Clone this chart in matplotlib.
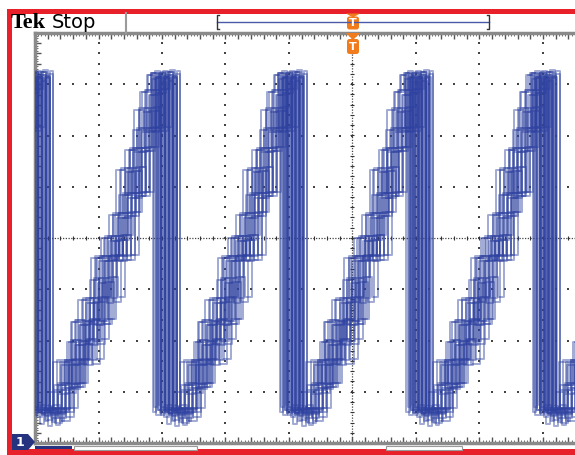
import matplotlib
matplotlib.use("Agg")
import matplotlib.pyplot as plt
import matplotlib.patches as patches
from matplotlib.ticker import MultipleLocator
import numpy as np

# scope settings: 63.5 px per horizontal div, 51.25 px per vertical div
DROPS = [-1.85, 0.15, 2.15, 4.14, 6.13, 8.12]   # falling edge of each sawtooth, div

# staircase templates (time after drop in div, level in div)
T1_t = [0.00, 0.38, 0.55, 0.66, 0.80, 0.95, 1.02, 1.12, 1.28, 1.40, 1.52, 1.62, 1.78, 1.90, 1.94]
T1_a = [-3.36, -2.87, -2.03, -2.42, -1.64, -0.82, -1.21, -0.39, 0.45, 0.84, 1.72, 2.11, 3.18, -3.30, 3.20]

T2_t = [0.00, 0.10, 0.16, 0.30, 0.45, 0.52, 0.70, 0.86, 0.98, 1.10, 1.25, 1.36, 1.46, 1.58, 1.70, 1.84, 1.92]
T2_a = [-3.30, -3.62, -3.36, -2.42, -2.87, -2.03, -1.21, -1.64, -0.39, 0.00, 0.45, 1.33, 0.84, 2.50, 2.85, 3.22, -3.45]

T3_t = [0.00, 0.25, 0.42, 0.60, 0.74, 0.88, 1.00, 1.15, 1.22, 1.34, 1.50, 1.66, 1.74, 1.86, 1.95]
T3_a = [-3.40, -3.00, -2.42, -1.64, -2.03, -0.82, -0.39, 0.00, -0.39, 0.84, 1.72, 2.50, 2.11, 3.10, -3.35]

T4_t = [0.00, 0.20, 0.32, 0.48, 0.58, 0.76, 0.90, 1.06, 1.18, 1.30, 1.44, 1.56, 1.68, 1.80, 1.88, 1.93]
T4_a = [-3.36, -3.55, -2.87, -2.42, -1.64, -1.21, -0.39, 0.00, 0.45, 1.33, 1.72, 2.11, 2.85, 3.18, -3.40, 3.15]

TEMPLATES = [(T1_t, T1_a), (T2_t, T2_a), (T3_t, T3_a), (T4_t, T4_a)]

# persistence: trigger jitter and level offsets of the overlaid acquisitions
SHIFT_T = [-0.17, -0.10, -0.04, 0.02, 0.08, 0.14]
SHIFT_A = [0.00, 0.04, -0.05, 0.03, -0.03, 0.05]

TRACE = '#2f42a0'
RED = '#e8202a'
ORANGE = '#f07c1e'
NAVY = '#26337f'

fig = plt.figure(figsize=(5.75, 4.55), dpi=100)
W, H = 575.0, 455.0

# graticule area
x0, x1, y0, y1 = 35, 575, 33, 443
ax = fig.add_axes([x0 / W, 1 - y1 / H, (x1 - x0) / W, (y1 - y0) / H])
ax.set_xlim(0, (x1 - x0) / 63.5)
ax.set_ylim(-4, 4)
for s in ['left', 'top', 'bottom']:
    ax.spines[s].set_color('#8a8a8a')
    ax.spines[s].set_linewidth(2.5)
ax.spines['right'].set_visible(False)
ax.xaxis.set_major_locator(MultipleLocator(0.2))
ax.xaxis.set_minor_locator(MultipleLocator(0.05))
ax.yaxis.set_major_locator(MultipleLocator(0.2))
ax.yaxis.set_minor_locator(MultipleLocator(0.05))
ax.tick_params(which='both', direction='in', top=True, bottom=True, left=True, right=False,
               labelbottom=False, labelleft=False, color='#555555')
ax.tick_params(which='major', length=4, width=1)
ax.tick_params(which='minor', length=2, width=0.6)

# dotted grid
xmaj = np.arange(1, 9)
ymaj = np.arange(-3, 4)
xmin_ = np.arange(0, 8.6, 0.2)
ymin_ = np.arange(-4, 4.01, 0.2)
for xv in xmaj:
    if xv == 5:
        continue
    ax.scatter(np.full_like(ymin_, xv), ymin_, s=1.2, marker='s', color='#444444', lw=0, zorder=1)
for yv in ymaj:
    if yv == 0:
        continue
    ax.scatter(xmin_, np.full_like(xmin_, yv), s=1.2, marker='s', color='#444444', lw=0, zorder=1)
# centre crosshair
ax.axvline(5, color='#444444', lw=0.9, ls=(0, (1, 1.2)), zorder=1)
ax.axhline(0, color='#444444', lw=0.9, ls=(0, (1, 1.2)), zorder=1)
ax.scatter(np.full_like(ymin_, 5), ymin_, s=12, marker='_', color='#333333', lw=0.8, zorder=1)
ax.scatter(xmin_, np.zeros_like(xmin_), s=12, marker='|', color='#333333', lw=0.8, zorder=1)

# trace
for tpl_t, tpl_a in TEMPLATES:
    for dt, da in zip(SHIFT_T, SHIFT_A):
        xs, ys = [], []
        for d in DROPS:
            xs += [d + dt + t for t in tpl_t]
            ys += [a + da for a in tpl_a]
        ax.step(xs, ys, where='post', color=TRACE, lw=1.4, alpha=0.45, zorder=3)

# overlay in pixel coordinates for the screen furniture
ov = fig.add_axes([0, 0, 1, 1])
ov.set_xlim(0, W)
ov.set_ylim(H, 0)
ov.axis('off')
ov.patch.set_alpha(0)

ov.add_patch(patches.Rectangle((7, 9), 568, 4.5, color=RED, lw=0))
ov.add_patch(patches.Rectangle((7, 9), 5, 446, color=RED, lw=0))
ov.add_patch(patches.Rectangle((7, 449), 568, 6, color=RED, lw=0))

ov.text(11, 23, 'Tek', fontsize=16, fontweight='bold', family='Liberation Serif',
        va='center', ha='left', color='black')
ov.text(52, 22, 'Stop', fontsize=14, family='DejaVu Sans', va='center', ha='left', color='black')
ov.plot([126, 126], [13, 33], color='#9a9a9a', lw=1.5)

# record view bracket
ov.plot([217, 489], [22, 22], color='#4a5aa8', lw=1)
ov.plot([219, 217, 217, 219], [15, 15, 29, 29], color='#333333', lw=1)
ov.plot([487, 489, 489, 487], [15, 15, 29, 29], color='#333333', lw=1)

# trigger markers
def trig(y_top, h_tri, h_box):
    ov.add_patch(patches.Polygon([[346, y_top], [360, y_top], [353, y_top + h_tri]],
                                 closed=True, color=ORANGE, lw=0))
    ov.add_patch(patches.FancyBboxPatch((347, y_top + h_tri - 1), 12, h_box,
                                        boxstyle='round,pad=0,rounding_size=2.5',
                                        color=ORANGE, lw=0))
    ov.text(353, y_top + h_tri - 1 + h_box / 2 + 0.5, 'T', color='white', fontsize=8,
            fontweight='bold', ha='center', va='center')

trig(13.5, 4, 13)
trig(33, 7, 15)

# channel 1 ground marker
ov.add_patch(patches.Polygon([[12, 434], [28, 434], [35, 442], [28, 450], [12, 450]],
                             closed=True, color=NAVY, lw=0))
ov.text(20, 442.5, '1', color='white', fontsize=9, fontweight='bold', ha='center', va='center')

# readout boxes under the graticule (mostly hidden behind the red bar)
ov.add_patch(patches.Rectangle((35, 446), 37, 3, color=NAVY, lw=0))
ov.add_patch(patches.Rectangle((74, 446), 123, 3.5, facecolor='white', edgecolor='#999999', lw=0.8))
ov.add_patch(patches.Rectangle((386, 446), 76, 3.5, facecolor='white', edgecolor='#999999', lw=0.8))

fig.savefig('out.png', dpi=100)
